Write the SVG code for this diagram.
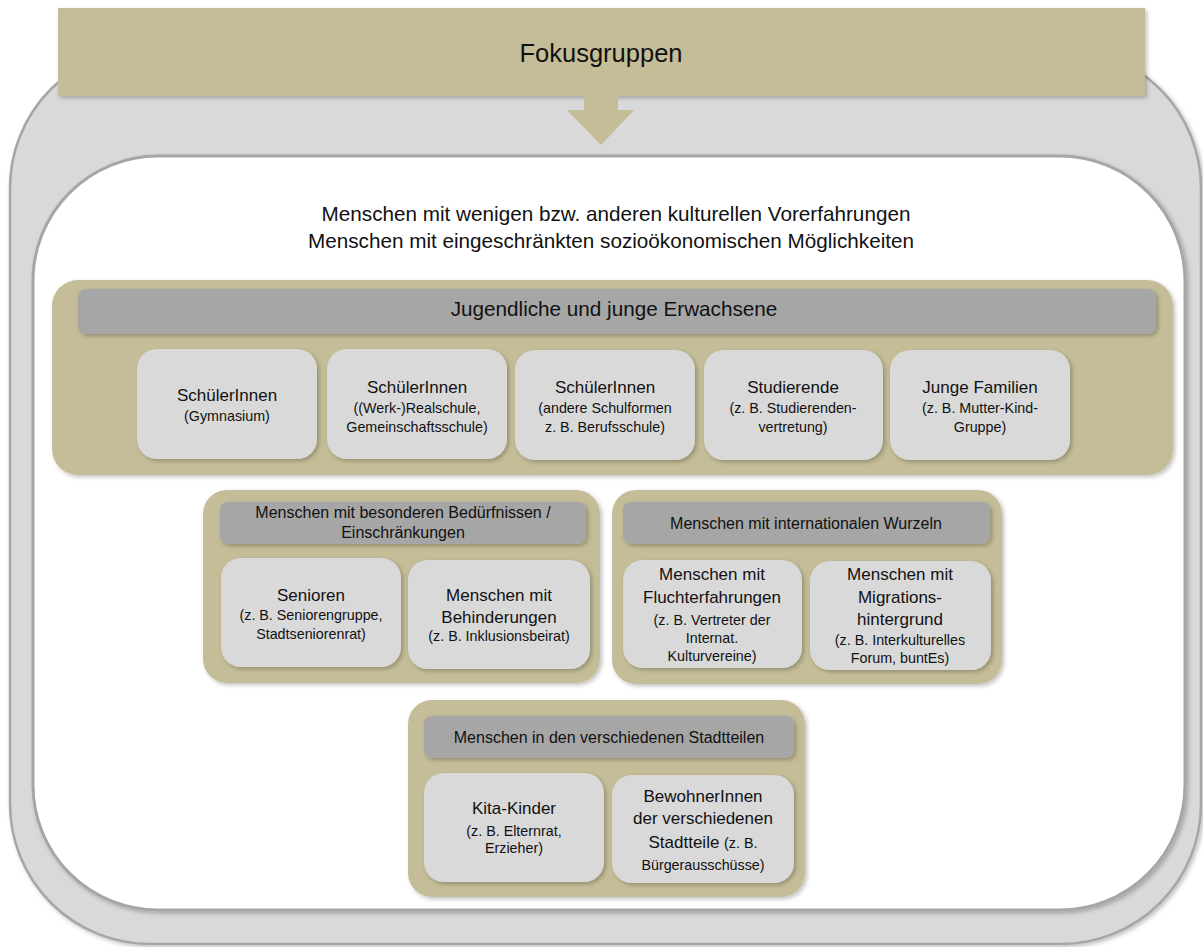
<svg xmlns="http://www.w3.org/2000/svg" width="1203" height="947" viewBox="0 0 1203 947">
<defs>
<filter id="sh" x="-10%" y="-10%" width="130%" height="130%">
<feDropShadow dx="2" dy="2" stdDeviation="2" flood-color="#000" flood-opacity="0.25"/>
</filter>
<style>
text{font-family:"Liberation Sans",Arial,sans-serif;fill:#111;text-anchor:middle}
.tan{fill:#c4bd97}
.bar{fill:#a6a6a6}
.box{fill:#d9d9d9}
.t20{font-size:20.7px}
.t15{font-size:16px}
.t17{font-size:17px}
.t13{font-size:14.3px}
</style>
</defs>
<rect width="1203" height="947" fill="#fff"/>
<g id="outer">
<rect x="10" y="48" width="1191" height="896" rx="140" ry="140" fill="#d9d9d9" stroke="#a6a6a6" stroke-width="2.5" filter="url(#sh)"/>
</g>
<g id="inner">
<rect x="33" y="156" width="1152" height="754" rx="125" ry="125" fill="#fff" stroke="#a6a6a6" stroke-width="3" filter="url(#sh)"/>
</g>
<g id="header">
<rect x="58" y="8" width="1087" height="88" class="tan" filter="url(#sh)"/>
<text x="601" y="62" font-size="25.5">Fokusgruppen</text>
</g>
<g id="connectors">
<polygon class="tan" points="584,96 618,96 618,110 634,110 601,145 567,110 584,110"/>
</g>
<g id="intro">
<text x="616" y="221" class="t20">Menschen mit wenigen bzw. anderen kulturellen Vorerfahrungen</text>
<text x="611" y="248" class="t20">Menschen mit eingeschränkten sozioökonomischen Möglichkeiten</text>
</g>
<g id="jugendliche">
<rect x="52" y="280" width="1121" height="195" rx="26" class="tan" filter="url(#sh)"/>
<rect x="78" y="289" width="1078" height="45" rx="8" class="bar" filter="url(#sh)"/>
<text x="614" y="316" class="t20">Jugendliche und junge Erwachsene</text>
</g>
<g id="schueler-gym">
<rect x="137" y="349" width="180" height="110" rx="20" class="box" filter="url(#sh)"/>
<text x="227" y="401" class="t17">SchülerInnen</text>
<text x="227" y="421" class="t13">(Gymnasium)</text>
</g>
<g id="schueler-real">
<rect x="327" y="349" width="180" height="110" rx="20" class="box" filter="url(#sh)"/>
<text x="417" y="393" class="t17">SchülerInnen</text>
<text x="417" y="413" class="t13">((Werk-)Realschule,</text>
<text x="417" y="432" class="t13">Gemeinschaftsschule)</text>
</g>
<g id="schueler-andere">
<rect x="515" y="350" width="180" height="110" rx="20" class="box" filter="url(#sh)"/>
<text x="605" y="393" class="t17">SchülerInnen</text>
<text x="605" y="413" class="t13">(andere Schulformen</text>
<text x="605" y="432" class="t13">z. B. Berufsschule)</text>
</g>
<g id="studierende">
<rect x="704" y="350" width="179" height="110" rx="20" class="box" filter="url(#sh)"/>
<text x="793" y="393" class="t17">Studierende</text>
<text x="793" y="413" class="t13">(z. B. Studierenden-</text>
<text x="793" y="432" class="t13">vertretung)</text>
</g>
<g id="familien">
<rect x="890" y="350" width="180" height="110" rx="20" class="box" filter="url(#sh)"/>
<text x="980" y="393" class="t17">Junge Familien</text>
<text x="980" y="413" class="t13">(z. B. Mutter-Kind-</text>
<text x="980" y="432" class="t13">Gruppe)</text>
</g>
<g id="beduerfnisse">
<rect x="203" y="490" width="397" height="193" rx="24" class="tan" filter="url(#sh)"/>
<rect x="220" y="502" width="366" height="42" rx="8" class="bar" filter="url(#sh)"/>
<text x="403" y="518" class="t15">Menschen mit besonderen Bedürfnissen /</text>
<text x="403" y="538" class="t15">Einschränkungen</text>
</g>
<g id="senioren">
<rect x="221" y="558" width="180" height="109" rx="20" class="box" filter="url(#sh)"/>
<text x="311" y="601" class="t17">Senioren</text>
<text x="311" y="620" class="t13">(z. B. Seniorengruppe,</text>
<text x="311" y="639" class="t13">Stadtseniorenrat)</text>
</g>
<g id="behinderungen">
<rect x="408" y="560" width="182" height="109" rx="20" class="box" filter="url(#sh)"/>
<text x="499" y="601" class="t17">Menschen mit</text>
<text x="499" y="623" class="t17">Behinderungen</text>
<text x="499" y="641" class="t13">(z. B. Inklusionsbeirat)</text>
</g>
<g id="international">
<rect x="612" y="490" width="390" height="194" rx="24" class="tan" filter="url(#sh)"/>
<rect x="623" y="502" width="367" height="42" rx="8" class="bar" filter="url(#sh)"/>
<text x="806" y="529" class="t15">Menschen mit internationalen Wurzeln</text>
</g>
<g id="flucht">
<rect x="623" y="560" width="179" height="108" rx="20" class="box" filter="url(#sh)"/>
<text x="712" y="580" class="t17">Menschen mit</text>
<text x="712" y="603" class="t17">Fluchterfahrungen</text>
<text x="712" y="625" class="t13">(z. B. Vertreter der</text>
<text x="712" y="643" class="t13">Internat.</text>
<text x="712" y="661" class="t13">Kulturvereine)</text>
</g>
<g id="migration">
<rect x="810" y="561" width="181" height="109" rx="20" class="box" filter="url(#sh)"/>
<text x="900" y="580" class="t17">Menschen mit</text>
<text x="900" y="603" class="t17">Migrations-</text>
<text x="900" y="625" class="t17">hintergrund</text>
<text x="900" y="645" class="t13">(z. B. Interkulturelles</text>
<text x="900" y="663" class="t13">Forum, buntEs)</text>
</g>
<g id="stadtteile">
<rect x="408" y="700" width="397" height="197" rx="24" class="tan" filter="url(#sh)"/>
<rect x="424" y="716" width="370" height="42" rx="8" class="bar" filter="url(#sh)"/>
<text x="609" y="743" class="t15">Menschen in den verschiedenen Stadtteilen</text>
</g>
<g id="kita">
<rect x="424" y="773" width="180" height="109" rx="20" class="box" filter="url(#sh)"/>
<text x="514" y="814" class="t17">Kita-Kinder</text>
<text x="514" y="836" class="t13">(z. B. Elternrat,</text>
<text x="514" y="853" class="t13">Erzieher)</text>
</g>
<g id="bewohner">
<rect x="612" y="775" width="182" height="108" rx="20" class="box" filter="url(#sh)"/>
<text x="703" y="802" class="t17">BewohnerInnen</text>
<text x="703" y="824" class="t17">der verschiedenen</text>
<text x="703" y="848" class="t17">Stadtteile <tspan class="t13">(z. B.</tspan></text>
<text x="703" y="870" class="t13">Bürgerausschüsse)</text>
</g>
</svg>
